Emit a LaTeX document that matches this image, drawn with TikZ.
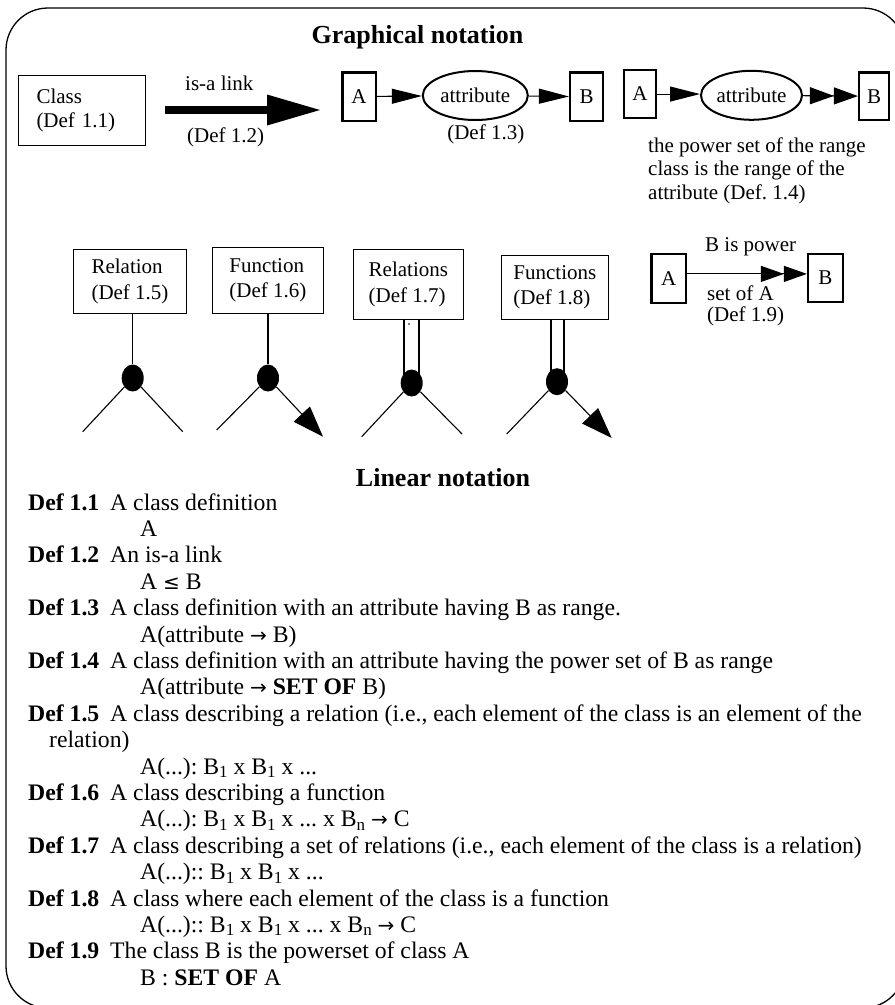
\documentclass[tikz,border=0pt]{standalone}
\usepackage{fontspec}
\setmainfont{Liberation Serif}
\newfontfamily\arrowfont{DejaVu Sans}
\usetikzlibrary{arrows.meta,shapes.geometric}
\newcommand\lsub[1]{\raisebox{-0.32ex}{\fontsize{17}{17}\selectfont #1}}
\newcommand\rarr{{\arrowfont\fontsize{20}{20}\selectfont →}}
\newcommand\leqs{{\arrowfont\fontsize{20}{20}\selectfont ≤}}
\frenchspacing
\begin{document}
\begin{tikzpicture}[x=1pt,y=-1pt,
  every node/.style={inner sep=0pt},
  lbl/.style={font=\fontsize{21}{23.5}\selectfont},
  thinbox/.style={draw, line width=1pt, align=left, anchor=north west, font=\fontsize{21}{25.5}\selectfont},
  ab/.style={draw, line width=2.4pt, anchor=north west, font=\fontsize{21}{25}\selectfont},
  attr/.style={draw, ellipse, line width=2pt, font=\fontsize{21}{25}\selectfont},
  blob/.style={fill, ellipse, minimum width=22pt, minimum height=27pt},
  conn/.style={line width=1.1pt},
  dbl/.style={line width=2pt},
  tipS/.style={-{Triangle[length=30pt,width=15pt]}},
  tipD/.style={-{Triangle[length=24pt,width=17pt,sep=0pt]Triangle[length=24pt,width=17pt]}},
  tipF/.style={-{Triangle[length=31pt,width=22pt]}},
  lin/.style={anchor=base west, font=\fontsize{23.7}{26}\selectfont},
  linb/.style={anchor=base west, font=\fontsize{23.7}{26}\selectfont\bfseries},
  head/.style={anchor=base, font=\fontsize{26}{30}\selectfont\bfseries}
]
\useasboundingbox (0,0) rectangle (895,1005);
\clip (0,0) rectangle (895,1005);
\draw[line width=1.3pt, rounded corners=42pt] (6,8) rectangle (905,1008);

% headings
\node[head] (gh) at (417.5,43) {Graphical notation};
\node[head] (lh) at (443,486) {Linear notation};

% ---- top row
\node[thinbox, text width=91pt, inner xsep=18pt, minimum height=70pt, font=\fontsize{21}{23.5}\selectfont] (cls) at (18,75) {Class\\(Def 1.1)};

\coordinate (isaS) at (165,110);
\coordinate (isaE) at (320,110);
\draw[line width=8pt, -{Triangle[length=53pt,width=31pt,line width=0pt]}] (isaS) -- (isaE);
\node[lbl, anchor=base west] (isaT) at (185,90) {is-a link};
\node[lbl, anchor=base west] (isaD) at (187,142) {(Def 1.2)};

\node[ab, minimum width=33.3pt, minimum height=48.3pt] (A1) at (341.2,71.2) {A};
\node[attr, minimum width=105pt, minimum height=49pt] (att1) at (475.3,95.5) {attribute};
\node[ab, minimum width=32.9pt, minimum height=48.6pt] (B1) at (568.9,71.2) {B};
\draw[conn, tipS] (A1) -- (att1);
\draw[conn, tipS] (att1) -- (B1);
\node[lbl, anchor=base] (d13) at (485.8,139) {(Def 1.3)};

\node[ab, minimum width=31.6pt, minimum height=47.9pt] (A2) at (622.9,68.9) {A};
\node[attr, minimum width=101pt, minimum height=49pt] (att2) at (751.5,95.3) {attribute};
\node[ab, minimum width=29.9pt, minimum height=47.6pt] (B2) at (857.9,71.2) {B};
\draw[conn, tipS] (A2.east) -- (A2.east -| att2.west);
\draw[conn, tipD] (att2) -- (B2);
\node[lbl, anchor=base west] (pw1) at (648,152) {the power set of the range};
\node[lbl, anchor=base west] (pw2) at (648,175.5) {class is the range of the};
\node[lbl, anchor=base west] (pw3) at (648,199) {attribute (Def. 1.4)};

% ---- second row
\node[thinbox, minimum width=113pt, minimum height=64pt] (rel) at (73,249) {Relation\\(Def 1.5)};
\node[thinbox, minimum width=111.3pt, minimum height=66.3pt] (fun) at (211.7,246.7) {Function\\(Def 1.6)};
\node[thinbox, minimum width=110.3pt, minimum height=70pt] (rels) at (352.7,249) {Relations\\(Def 1.7)};
\node[thinbox, minimum width=107.3pt, minimum height=64pt] (funs) at (500.7,255) {Functions\\(Def 1.8)};

\node[blob] (reldot) at (132.7,378) {};
\node[blob] (fundot) at (268,378) {};
\node[blob] (relsdot) at (411.7,383) {};
\node[blob] (funsdot) at (557,381.7) {};

\coordinate (relL) at (82.7,431.7);
\coordinate (relR) at (182.7,431.7);
\coordinate (funL) at (216.7,430);
\coordinate (funR) at (323,436.7);
\coordinate (relsL) at (361.7,436.7);
\coordinate (relsR) at (462,434);
\coordinate (funsL) at (506.7,434);
\coordinate (funsR) at (611.7,438);

\draw[conn] (rel.south -| reldot) -- (reldot);
\draw[conn] (reldot) -- (relL);
\draw[conn] (reldot) -- (relR);

\draw[conn] (fun.south -| fundot) -- (fundot);
\draw[conn] (fundot) -- (funL);
\draw[conn, tipF] (fundot) -- (funR);

\coordinate (relsSL) at ([xshift=-8pt]relsdot.center);
\coordinate (relsSR) at ([xshift=7pt]relsdot.center);
\draw[dbl] (rels.south -| relsSL) -- (relsSL);
\draw[dbl] (rels.south -| relsSR) -- (relsSR);
\draw[conn] (relsdot) -- (relsL);
\draw[conn] (relsdot) -- (relsR);
\fill (409,324) circle (0.9);

\coordinate (funsSL) at ([xshift=-6.5pt]funsdot.center);
\coordinate (funsSR) at ([xshift=6.5pt]funsdot.center);
\draw[dbl] (funs.south -| funsSL) -- (funsSL);
\draw[dbl] (funs.south -| funsSR) -- (funsSR);
\draw[conn] (funsdot) -- (funsL);
\draw[conn, tipF] (funsdot) -- (funsR);

\node[ab, minimum width=34.6pt, minimum height=48.6pt] (A3) at (650.2,252.9) {A};
\node[ab, minimum width=34.6pt, minimum height=47.6pt] (B3) at (806.9,252.9) {B};
\draw[conn, -{Triangle[length=23pt,width=16pt,sep=0pt]Triangle[length=23pt,width=16pt]}] ([yshift=4.5pt]A3.east) -- ([yshift=4.5pt]A3.east -| B3.west);
\node[lbl, anchor=base west] (bp1) at (705,251) {B is power};
\node[lbl, anchor=base west] (bp2) at (707,300) {set of A};
\node[lbl, anchor=base west] (bp3) at (707,321) {(Def 1.9)};

% ---- linear notation
\node[linb] (d1) at (28,510) {Def 1.1};
\node[lin] (t1) at (110,510) {A class definition};
\node[lin] (e1) at (140,536.4) {A};
\node[linb] (d2) at (28,562.8) {Def 1.2};
\node[lin] (t2) at (110,562.8) {An is-a link};
\node[lin] (e2) at (140,589.2) {A \leqs{} B};
\node[linb] (d3) at (28,615.6) {Def 1.3};
\node[lin] (t3) at (110,615.6) {A class definition with an attribute having B as range.};
\node[lin] (e3) at (140,642) {A(attribute \rarr{} B)};
\node[linb] (d4) at (28,668.4) {Def 1.4};
\node[lin] (t4) at (110,668.4) {A class definition with an attribute having the power set of B as range};
\node[lin] (e4) at (140,694.8) {A(attribute \rarr{} \textbf{SET OF} B)};
\node[linb] (d5) at (28,721.2) {Def 1.5};
\node[lin] (t5) at (110,721.2) {A class describing a relation (i.e., each element of the class is an element of the};
\node[lin] (t5b) at (49,747.6) {relation)};
\node[lin] (e5) at (140,774) {A(...): B\lsub{1} x B\lsub{1} x ...};
\node[linb] (d6) at (28,800.4) {Def 1.6};
\node[lin] (t6) at (110,800.4) {A class describing a function};
\node[lin] (e6) at (140,826.8) {A(...): B\lsub{1} x B\lsub{1} x ... x B\lsub{n} \rarr{} C};
\node[linb] (d7) at (28,853.2) {Def 1.7};
\node[lin] (t7) at (110,853.2) {A class describing a set of relations (i.e., each element of the class is a relation)};
\node[lin] (e7) at (140,879.6) {A(...):: B\lsub{1} x B\lsub{1} x ...};
\node[linb] (d8) at (28,906) {Def 1.8};
\node[lin] (t8) at (110,906) {A class where each element of the class is a function};
\node[lin] (e8) at (140,932.4) {A(...):: B\lsub{1} x B\lsub{1} x ... x B\lsub{n} \rarr{} C};
\node[linb] (d9) at (28,958.8) {Def 1.9};
\node[lin] (t9) at (110,958.8) {The class B is the powerset of class A};
\node[lin] (e9) at (140,985.2) {B : \textbf{SET OF} A};
\end{tikzpicture}
\end{document}
